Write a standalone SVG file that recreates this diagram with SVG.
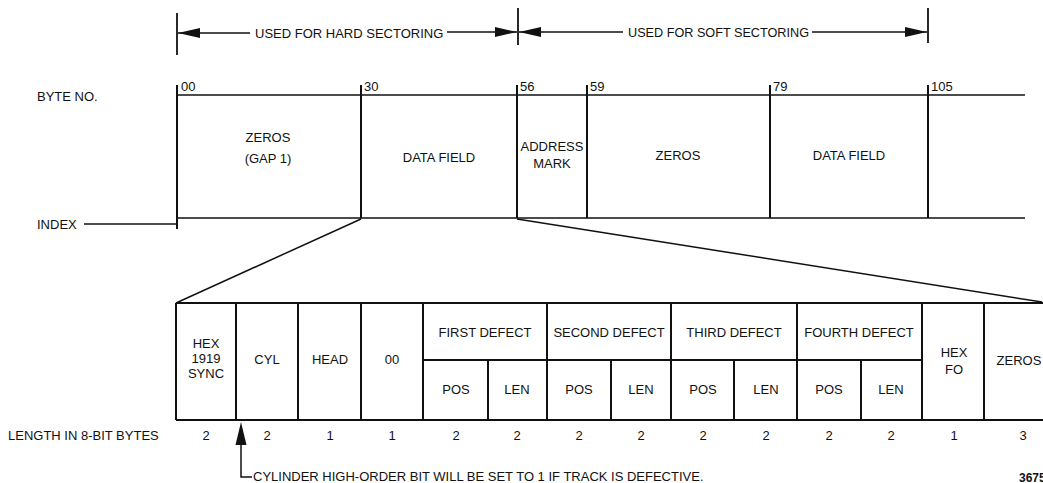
<svg xmlns="http://www.w3.org/2000/svg" width="1043" height="483" viewBox="0 0 1043 483">
<defs>
<style>
text{font-family:"Liberation Sans",Arial,sans-serif;font-size:13px;fill:#111}
.c{text-anchor:middle}
.ln{stroke:#111;stroke-width:1.8;fill:none}
.thin{stroke:#111;stroke-width:1.5;fill:none}
.box{stroke:#111;stroke-width:2;fill:none}
</style>
<marker id="ah" viewBox="0 0 22 10" refX="22" refY="5" markerWidth="22" markerHeight="10" markerUnits="userSpaceOnUse" orient="auto">
<path d="M0,0 L22,5 L0,10 Z" fill="#111"/>
</marker>
</defs>
<rect width="1043" height="483" fill="#fff"/>

<!-- dimension lines -->
<g id="dimensions">
<line class="ln" x1="177" y1="13" x2="177" y2="55"/>
<line class="ln" x1="518" y1="8" x2="518" y2="45"/>
<line class="ln" x1="928" y1="8" x2="928" y2="43"/>
<line class="thin" x1="250" y1="33" x2="178" y2="33" marker-end="url(#ah)"/>
<line class="thin" x1="447" y1="32" x2="517" y2="32" marker-end="url(#ah)"/>
<line class="thin" x1="623" y1="32" x2="519" y2="32" marker-end="url(#ah)"/>
<line class="thin" x1="812" y1="32" x2="927" y2="32" marker-end="url(#ah)"/>
<text x="255" y="38">USED FOR HARD SECTORING</text>
<text x="628" y="37" textLength="181" lengthAdjust="spacingAndGlyphs">USED FOR SOFT SECTORING</text>
</g>

<g id="labels">
<text x="37" y="101">BYTE NO.</text>
<text x="37" y="229">INDEX</text>
<text x="8" y="440">LENGTH IN 8-BIT BYTES</text>
<text x="1019" y="482" style="font-weight:bold;font-size:12px">3675</text>
</g>

<!-- track layout -->
<g id="track">
<line class="thin" x1="177" y1="95" x2="1025" y2="95"/>
<line class="thin" x1="177" y1="218" x2="1025" y2="218"/>
<line class="box" x1="177" y1="85" x2="177" y2="229"/>
<line class="box" x1="361" y1="85" x2="361" y2="218"/>
<line class="box" x1="517" y1="85" x2="517" y2="218"/>
<line class="box" x1="587" y1="85" x2="587" y2="218"/>
<line class="box" x1="770" y1="85" x2="770" y2="218"/>
<line class="box" x1="928" y1="85" x2="928" y2="218"/>
<text x="181" y="91">00</text>
<text x="364" y="91">30</text>
<text x="520" y="91">56</text>
<text x="590" y="91">59</text>
<text x="773" y="91">79</text>
<text x="931" y="91">105</text>
</g>
<g id="gap1"><text class="c" x="268" y="142">ZEROS</text><text class="c" x="268" y="163">(GAP 1)</text></g>
<g id="datafield1"><text class="c" x="439" y="162">DATA FIELD</text></g>
<g id="addressmark"><text class="c" x="552" y="151">ADDRESS</text><text class="c" x="552" y="168">MARK</text></g>
<g id="zeros2"><text class="c" x="678" y="160">ZEROS</text></g>
<g id="datafield2"><text class="c" x="849" y="160">DATA FIELD</text></g>

<!-- connectors -->
<g id="connectors">
<line class="thin" x1="84" y1="224" x2="177" y2="224"/>
<line class="thin" x1="361" y1="219" x2="176" y2="303"/>
<line class="thin" x1="517" y1="219" x2="1042" y2="302"/>
<polyline class="thin" points="241,440 241,477 252,477"/>
<path d="M241,422 L235.5,445 L246.5,445 Z" fill="#111"/>
</g>

<!-- record layout -->
<g id="record">
<line class="box" x1="176" y1="303" x2="1043" y2="303"/>
<line class="box" x1="176" y1="420" x2="1043" y2="420"/>
<line class="box" x1="423" y1="360" x2="922" y2="360"/>
<line class="box" x1="176" y1="303" x2="176" y2="420"/>
<line class="box" x1="236" y1="303" x2="236" y2="420"/>
<line class="box" x1="298" y1="303" x2="298" y2="420"/>
<line class="box" x1="361" y1="303" x2="361" y2="420"/>
<line class="box" x1="423" y1="303" x2="423" y2="420"/>
<line class="box" x1="488" y1="360" x2="488" y2="420"/>
<line class="box" x1="547" y1="303" x2="547" y2="420"/>
<line class="box" x1="611" y1="360" x2="611" y2="420"/>
<line class="box" x1="671" y1="303" x2="671" y2="420"/>
<line class="box" x1="734" y1="360" x2="734" y2="420"/>
<line class="box" x1="797" y1="303" x2="797" y2="420"/>
<line class="box" x1="861" y1="360" x2="861" y2="420"/>
<line class="box" x1="922" y1="303" x2="922" y2="420"/>
<line class="box" x1="984" y1="303" x2="984" y2="420"/>
</g>
<g id="sync"><text class="c" x="206" y="348">HEX</text><text class="c" x="206" y="363">1919</text><text class="c" x="206" y="378">SYNC</text><text class="c" x="206" y="440">2</text></g>
<g id="cyl"><text class="c" x="267" y="364">CYL</text><text class="c" x="267" y="440">2</text></g>
<g id="head"><text class="c" x="330" y="364">HEAD</text><text class="c" x="330" y="440">1</text></g>
<g id="zz"><text class="c" x="392" y="364">00</text><text class="c" x="392" y="440">1</text></g>
<g id="defect1"><text class="c" x="485" y="337">FIRST DEFECT</text><text class="c" x="456" y="394">POS</text><text class="c" x="517" y="394">LEN</text><text class="c" x="456" y="440">2</text><text class="c" x="517" y="440">2</text></g>
<g id="defect2"><text class="c" x="609" y="337">SECOND DEFECT</text><text class="c" x="579" y="394">POS</text><text class="c" x="641" y="394">LEN</text><text class="c" x="579" y="440">2</text><text class="c" x="641" y="440">2</text></g>
<g id="defect3"><text class="c" x="734" y="337">THIRD DEFECT</text><text class="c" x="703" y="394">POS</text><text class="c" x="766" y="394">LEN</text><text class="c" x="703" y="440">2</text><text class="c" x="766" y="440">2</text></g>
<g id="defect4"><text class="c" x="859" y="337">FOURTH DEFECT</text><text class="c" x="829" y="394">POS</text><text class="c" x="891" y="394">LEN</text><text class="c" x="829" y="440">2</text><text class="c" x="891" y="440">2</text></g>
<g id="hexfo"><text class="c" x="954" y="357">HEX</text><text class="c" x="954" y="374">FO</text><text class="c" x="954" y="440">1</text></g>
<g id="zeros3"><text class="c" x="1019" y="365">ZEROS</text><text class="c" x="1023" y="440">3</text></g>
<g id="note"><text x="253" y="481">CYLINDER HIGH-ORDER BIT WILL BE SET TO 1 IF TRACK IS DEFECTIVE.</text></g>
</svg>
